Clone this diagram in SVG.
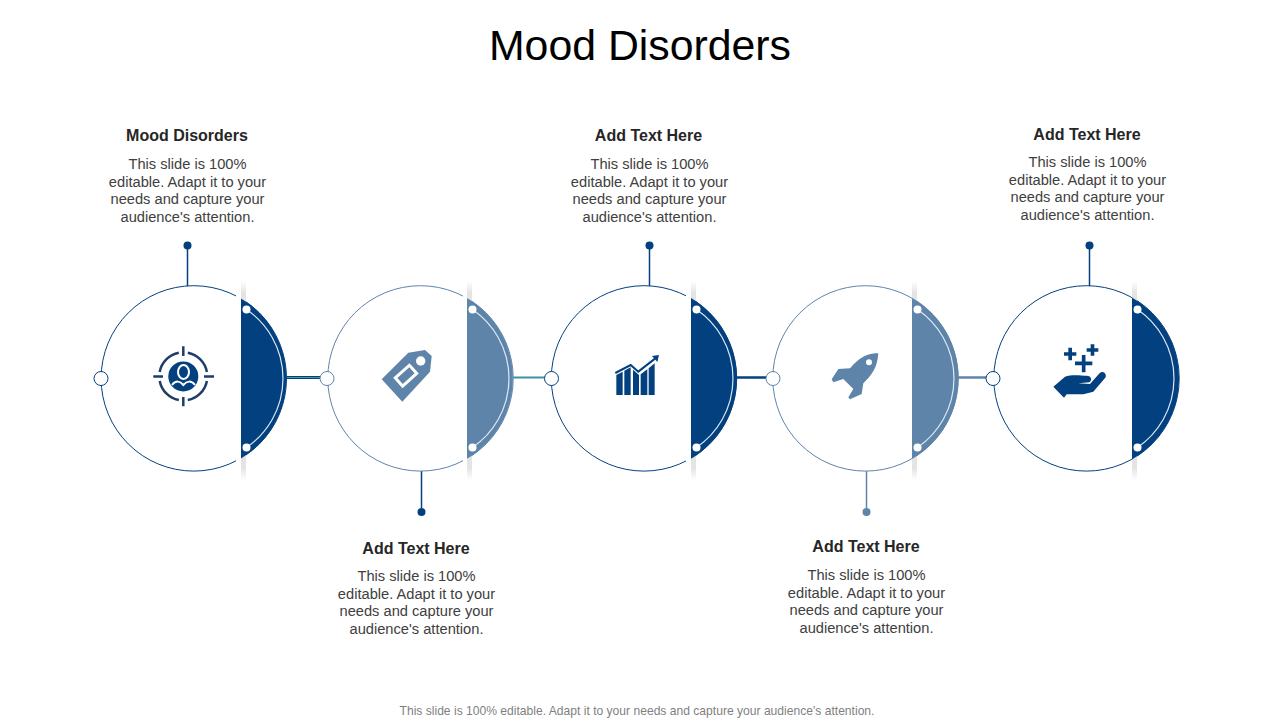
<svg xmlns="http://www.w3.org/2000/svg" width="1280" height="720" viewBox="0 0 1280 720">
<style>
text{font-family:"Liberation Sans",Arial,sans-serif;text-anchor:middle}
.title{font-size:42.8px;fill:#000}
.h{font-size:16px;font-weight:700;fill:#262626}
.b{font-size:14.67px;fill:#404040}
.foot{font-size:12.1px;fill:#7f7f7f}
.ring{fill:#fff;stroke-width:1}
.navy{stroke:#03407f}
.steel{stroke:#5f84a9}
.fn{fill:#03407f}
.fs{fill:#5f84a9}
.bar{fill:url(#fade)}
.gap{fill:#fff}
.inner{fill:none;stroke:#dbe8f5;stroke-width:1.2}
.w{fill:#fff}
.pin{stroke-width:1.5;fill:none}
.port{fill:#fff;stroke-width:1}
</style>
<defs>
<linearGradient id="fade" x1="0" y1="0" x2="0" y2="1">
<stop offset="0" stop-color="#e4e4e4" stop-opacity="0"/>
<stop offset=".06" stop-color="#e4e4e4"/>
<stop offset=".94" stop-color="#e4e4e4"/>
<stop offset="1" stop-color="#e4e4e4" stop-opacity="0"/>
</linearGradient>
</defs>
<rect width="1280" height="720" fill="#fff"/>
<text class="title" x="640" y="60">Mood Disorders</text>
<g id="connectors">
<path class="pin navy" d="M187.500 245V286"/><circle class="fn" cx="187.500" cy="245.500" r="4"/>
<path class="pin navy" d="M421.500 471V512"/><circle class="fn" cx="421.500" cy="512" r="4"/>
<path class="pin navy" d="M649.500 245V286"/><circle class="fn" cx="649.500" cy="245.500" r="4"/>
<path class="pin steel" d="M866.500 471V512"/><circle class="fs" cx="866.500" cy="512" r="4"/>
<path class="pin navy" d="M1089.500 245V286"/><circle class="fn" cx="1089.500" cy="245.500" r="4"/>
<path d="M286 377.500H322" stroke="#03407f" stroke-width="3" fill="none"/><path d="M286 377.500H322" stroke="#3f9d9d" stroke-width="1" fill="none"/>
<path d="M513 377.500H546" stroke="#3f8fa8" stroke-width="2" fill="none"/>
<path d="M737 377.500H768" stroke="#03407f" stroke-width="2.500" fill="none"/>
<path d="M958 377.500H988" stroke="#5f84a9" stroke-width="2.500" fill="none"/>
</g>
<g id="node1">
<circle class="ring navy" cx="193.800" cy="378.400" r="92.700"/>
<rect class="gap" x="236" y="281" width="5" height="199"/><rect class="bar" x="241" y="281" width="5" height="199"/>
<path class="fn" d="M241 298.400A93.200 93.200 0 0 1 241 458.400Z"/>
<path class="inner" d="M246.500 309.500A83.500 83.500 0 0 1 246.500 447.500"/>
<circle class="w" cx="246.500" cy="309.500" r="4"/><circle class="w" cx="246.500" cy="447.500" r="4"/>
<circle class="port navy" cx="101" cy="378.500" r="7"/>
<g id="icon1">
<circle class="fn" cx="183.300" cy="376.400" r="15"/>
<path d="M178.800 352.800A24 24 0 0 0 159.700 371.900M187.800 352.800A24 24 0 0 1 206.900 371.900M206.900 380.900A24 24 0 0 1 187.800 400M178.800 400A24 24 0 0 1 159.700 380.900" fill="none" stroke="#1f3d68" stroke-width="2.500"/>
<path d="M183.300 346.300V356M183.300 397V406.300M153.300 376.400H163M204 376.400H214" fill="none" stroke="#1f3d68" stroke-width="2.500"/>
<ellipse cx="183.500" cy="372" rx="5.500" ry="7" fill="none" stroke="#fff" stroke-width="2"/>
<path d="M172 385C176 380 180 381 183.300 385C187 381 191 380 195 385" fill="none" stroke="#fff" stroke-width="2"/>
</g>
<text class="h" x="187" y="140.500">Mood Disorders</text>
<text class="b" x="187.500" y="169">This slide is 100%</text>
<text class="b" x="187.500" y="186.500">editable. Adapt it to your</text>
<text class="b" x="187.500" y="204">needs and capture your</text>
<text class="b" x="187.500" y="222">audience's attention.</text>
</g>
<g id="node2">
<circle class="ring steel" cx="420.500" cy="378.400" r="92.700"/>
<rect class="gap" x="463" y="281" width="4" height="199"/><rect class="bar" x="467" y="281" width="5" height="199"/>
<path class="fs" d="M467 298.100A93.200 93.200 0 0 1 467 458.700Z"/>
<path class="inner" d="M472.500 309.500A83.500 83.500 0 0 1 472.500 447.500"/>
<circle class="w" cx="472.500" cy="309.500" r="4"/><circle class="w" cx="472.500" cy="447.500" r="4"/>
<circle class="port steel" cx="327" cy="378.500" r="7"/>
<g id="icon2">
<path class="fs" d="M381.700 379.300L408.300 352.700L425 350L431.700 356L430 371.700L402.300 401.700Z"/>
<circle class="w" cx="420.700" cy="361" r="4.700"/>
<rect x="396.500" y="370.200" width="19" height="11" transform="rotate(-42 406 375.700)" fill="none" stroke="#fff" stroke-width="3"/>
</g>
<text class="h" x="416" y="553.500">Add Text Here</text>
<text class="b" x="416.500" y="581">This slide is 100%</text>
<text class="b" x="416.500" y="599">editable. Adapt it to your</text>
<text class="b" x="416.500" y="616">needs and capture your</text>
<text class="b" x="416.500" y="634">audience's attention.</text>
</g>
<g id="node3">
<circle class="ring navy" cx="644" cy="378.400" r="92.700"/>
<rect class="gap" x="686" y="281" width="5" height="199"/><rect class="bar" x="691" y="281" width="5" height="199"/>
<path class="fn" d="M691 298.100A93.200 93.200 0 0 1 691 458.700Z"/>
<path class="inner" d="M696.500 309.500A83.500 83.500 0 0 1 696.500 447.500"/>
<circle class="w" cx="696.500" cy="309.500" r="4"/><circle class="w" cx="696.500" cy="447.500" r="4"/>
<circle class="port navy" cx="551.500" cy="378.500" r="7"/>
<g id="icon3" transform="translate(600 280) scale(.3333)">
<path class="fn" d="M49 285L68 275V345H49ZM73 272L92 262V345H73ZM99 269L117 285V345H99ZM122 283L142 268V345H122ZM146 265L164 250V345H146Z"/>
<path d="M46 279L92 255L115 275L165 236" fill="none" stroke="#03407f" stroke-width="6"/>
<path class="fn" d="M156 228L177 225L172 246Z"/>
</g>
<text class="h" x="648.500" y="140.500">Add Text Here</text>
<text class="b" x="649.500" y="169">This slide is 100%</text>
<text class="b" x="649.500" y="186.500">editable. Adapt it to your</text>
<text class="b" x="649.500" y="204">needs and capture your</text>
<text class="b" x="649.500" y="222">audience's attention.</text>
</g>
<g id="node4">
<circle class="ring steel" cx="865.500" cy="378.400" r="92.700"/>
<rect class="bar" x="912" y="281" width="5" height="199"/>
<path class="fs" d="M912 297.700A93.200 93.200 0 0 1 912 459.100Z"/>
<path class="inner" d="M917.500 309.500A83.500 83.500 0 0 1 917.500 447.500"/>
<circle class="w" cx="917.500" cy="309.500" r="4"/><circle class="w" cx="917.500" cy="447.500" r="4"/>
<circle class="port steel" cx="773" cy="378.500" r="7"/>
<g id="icon4" transform="translate(820 280) scale(.3333)">
<path class="fs" d="M175 220C150 220 125 225 90 265L55 267L35 298L40 307L70 297L100 327L85 352L90 358L125 342L130 310C155 285 172 265 175 220Z"/>
<circle class="w" cx="147" cy="247" r="9"/>
</g>
<text class="h" x="866" y="551.500">Add Text Here</text>
<text class="b" x="866.500" y="580">This slide is 100%</text>
<text class="b" x="866.500" y="598">editable. Adapt it to your</text>
<text class="b" x="866.500" y="615">needs and capture your</text>
<text class="b" x="866.500" y="633">audience's attention.</text>
</g>
<g id="node5">
<circle class="ring navy" cx="1086.500" cy="378.400" r="92.700"/>
<rect class="bar" x="1132" y="281" width="5" height="199"/>
<path class="fn" d="M1132 297.400A93.200 93.200 0 0 1 1132 459.400Z"/>
<path class="inner" d="M1137.500 309.500A83.500 83.500 0 0 1 1137.500 447.500"/>
<circle class="w" cx="1137.500" cy="309.500" r="4"/><circle class="w" cx="1137.500" cy="447.500" r="4"/>
<circle class="port navy" cx="993" cy="378.500" r="7"/>
<g id="icon5" transform="translate(1040 330) scale(.3333)">
<path d="M72 72H109M90.500 53V91M140 60H175M157.500 43V77M105 100H157M131 75V127" fill="none" stroke="#03407f" stroke-width="11"/>
<path class="fn" d="M40 170L75 140C95 132 125 137 140 137C155 138 157 150 148 157L115 160L150 162L180 128C190 122 200 130 197 142L160 185L130 193H80L72 203Z"/>
</g>
<text class="h" x="1087" y="139.500">Add Text Here</text>
<text class="b" x="1087.500" y="167">This slide is 100%</text>
<text class="b" x="1087.500" y="185">editable. Adapt it to your</text>
<text class="b" x="1087.500" y="202">needs and capture your</text>
<text class="b" x="1087.500" y="220">audience's attention.</text>
</g>
<text class="foot" x="637" y="715">This slide is 100% editable. Adapt it to your needs and capture your audience's attention.</text>
</svg>
